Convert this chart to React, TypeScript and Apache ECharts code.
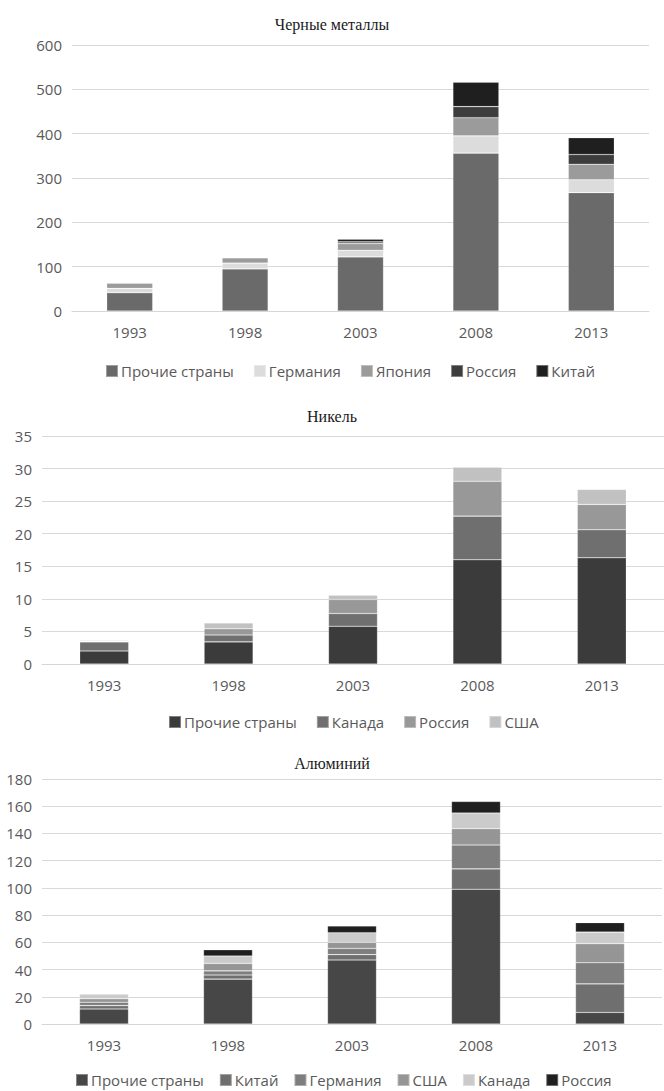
import React, { useEffect, useRef } from "react";
import * as echarts from "echarts";

const years = ["1993", "1998", "2003", "2008", "2013"];

// Черные металлы
const ferrousNames = ["Прочие страны", "Германия", "Япония", "Россия", "Китай"];
const ferrousOther = [41, 95, 122, 356, 267];
const ferrousGermany = [10, 13, 15, 39, 29];
const ferrousJapan = [12, 12, 15, 41, 35];
const ferrousRussia = [0, 0, 4, 25, 22];
const ferrousChina = [0, 0, 6, 55, 38];
const ferrousColors = ["#6a6a6a", "#dcdcdc", "#9b9b9b", "#3d3d3d", "#1f1f1f"];

// Никель
const nickelNames = ["Прочие страны", "Канада", "Россия", "США"];
const nickelOther = [2.0, 3.4, 5.8, 16.0, 16.3];
const nickelCanada = [1.4, 1.05, 1.95, 6.7, 4.3];
const nickelRussia = [0.1, 0.95, 2.15, 5.35, 3.9];
const nickelUSA = [0.1, 0.9, 0.65, 2.15, 2.3];
const nickelColors = ["#3b3b3b", "#6f6f6f", "#989898", "#c1c1c1"];

// Алюминий
const alNames = ["Прочие страны", "Китай", "Германия", "США", "Канада", "Россия"];
const alOther = [11, 33, 47, 99, 8.5];
const alChina = [2.5, 3, 4, 15, 21];
const alGermany = [2.5, 3, 4.5, 17.5, 15.5];
const alUSA = [2.5, 5.5, 4.5, 12, 14];
const alCanada = [3.5, 5.5, 7, 11.5, 8.5];
const alRussia = [0, 4.5, 5, 8.5, 7];
const alColors = ["#474747", "#6f6f6f", "#7e7e7e", "#959595", "#cbcbcb", "#1f1f1f"];

const textColor = "#595959";
const sans = "'Open Sans', 'Noto Sans', sans-serif";

interface Cfg {
  title: string;
  titleTop: number;
  names: string[];
  data: number[][];
  colors: string[];
  max: number;
  interval: number;
  grid: { left: number; right: number; top: number; height: number };
  barWidth: number;
  legendTop: number;
  legendLeft: any;
  legendGap: number;
  legendFont: number;
}

function makeOption(c: Cfg) {
  return {
    animation: false,
    title: {
      text: c.title,
      left: "center",
      top: c.titleTop,
      textStyle: {
        fontFamily: "'Liberation Serif', 'DejaVu Serif', serif",
        fontSize: 16,
        fontWeight: "normal",
        color: "#1a1a1a",
      },
    },
    legend: {
      top: c.legendTop,
      left: c.legendLeft,
      padding: [2, 5, 2, 5],
      itemWidth: 12,
      itemHeight: 12,
      itemGap: c.legendGap,
      icon: "rect",
      textStyle: {
        fontFamily: sans,
        fontSize: c.legendFont,
        lineHeight: 16,
        color: textColor,
        padding: [0, 0, 0, -2],
      },
      data: c.names,
    },
    grid: { ...c.grid, containLabel: false },
    xAxis: {
      type: "category",
      data: years,
      axisLine: { show: true, lineStyle: { color: "#d6d6d6", width: 1 } },
      axisTick: { show: false },
      axisLabel: { fontFamily: sans, fontSize: 15, color: textColor, margin: 13 },
    },
    yAxis: {
      type: "value",
      min: 0,
      max: c.max,
      interval: c.interval,
      axisLine: { show: false },
      axisTick: { show: false },
      splitLine: { lineStyle: { color: "#d9d9d9", width: 1 } },
      axisLabel: { fontFamily: sans, fontSize: 15, color: textColor, margin: 10 },
    },
    series: c.names.map((n, i) => ({
      name: n,
      type: "bar",
      stack: "total",
      barWidth: c.barWidth,
      data: c.data[i],
      itemStyle: {
        color: c.colors[i],
        borderColor: "rgba(255,255,255,0.35)",
        borderWidth: 0.6,
      },
    })),
  };
}

const cfgs: { top: number; height: number; cfg: Cfg }[] = [
  {
    top: 0,
    height: 385,
    cfg: {
      title: "Черные металлы",
      titleTop: 11,
      names: ferrousNames,
      data: [ferrousOther, ferrousGermany, ferrousJapan, ferrousRussia, ferrousChina],
      colors: ferrousColors,
      max: 600,
      interval: 100,
      grid: { left: 72, right: 15, top: 45, height: 266 },
      barWidth: 46,
      legendTop: 361,
      legendLeft: 100,
      legendGap: 19,
      legendFont: 15,
    },
  },
  {
    top: 385,
    height: 355,
    cfg: {
      title: "Никель",
      titleTop: 18,
      names: nickelNames,
      data: [nickelOther, nickelCanada, nickelRussia, nickelUSA],
      colors: nickelColors,
      max: 35,
      interval: 5,
      grid: { left: 42, right: -5, top: 51, height: 228 },
      barWidth: 49,
      legendTop: 327,
      legendLeft: 163,
      legendGap: 19,
      legendFont: 15,
    },
  },
  {
    top: 740,
    height: 351,
    cfg: {
      title: "Алюминий",
      titleTop: 10,
      names: alNames,
      data: [alOther, alChina, alGermany, alUSA, alCanada, alRussia],
      colors: alColors,
      max: 180,
      interval: 20,
      grid: { left: 42, right: 2, top: 39, height: 245 },
      barWidth: 49,
      legendTop: 330,
      legendLeft: 70,
      legendGap: 15,
      legendFont: 15,
    },
  },
];

function Chart({ cfg, top, height }: { cfg: Cfg; top: number; height: number }) {
  const ref = useRef<HTMLDivElement>(null);
  useEffect(() => {
    if (!ref.current) return;
    const chart = echarts.init(ref.current, undefined, { renderer: "svg" });
    chart.setOption(makeOption(cfg) as any);
    return () => chart.dispose();
  }, [cfg]);
  return (
    <div
      ref={ref}
      style={{ position: "absolute", left: 0, top, width: 664, height }}
    />
  );
}

export default function App() {
  return (
    <div
      style={{
        position: "absolute",
        left: 0,
        top: 0,
        width: 664,
        height: 1091,
        background: "#ffffff",
        overflow: "hidden",
      }}
    >
      {cfgs.map((c, i) => (
        <Chart key={i} cfg={c.cfg} top={c.top} height={c.height} />
      ))}
    </div>
  );
}
